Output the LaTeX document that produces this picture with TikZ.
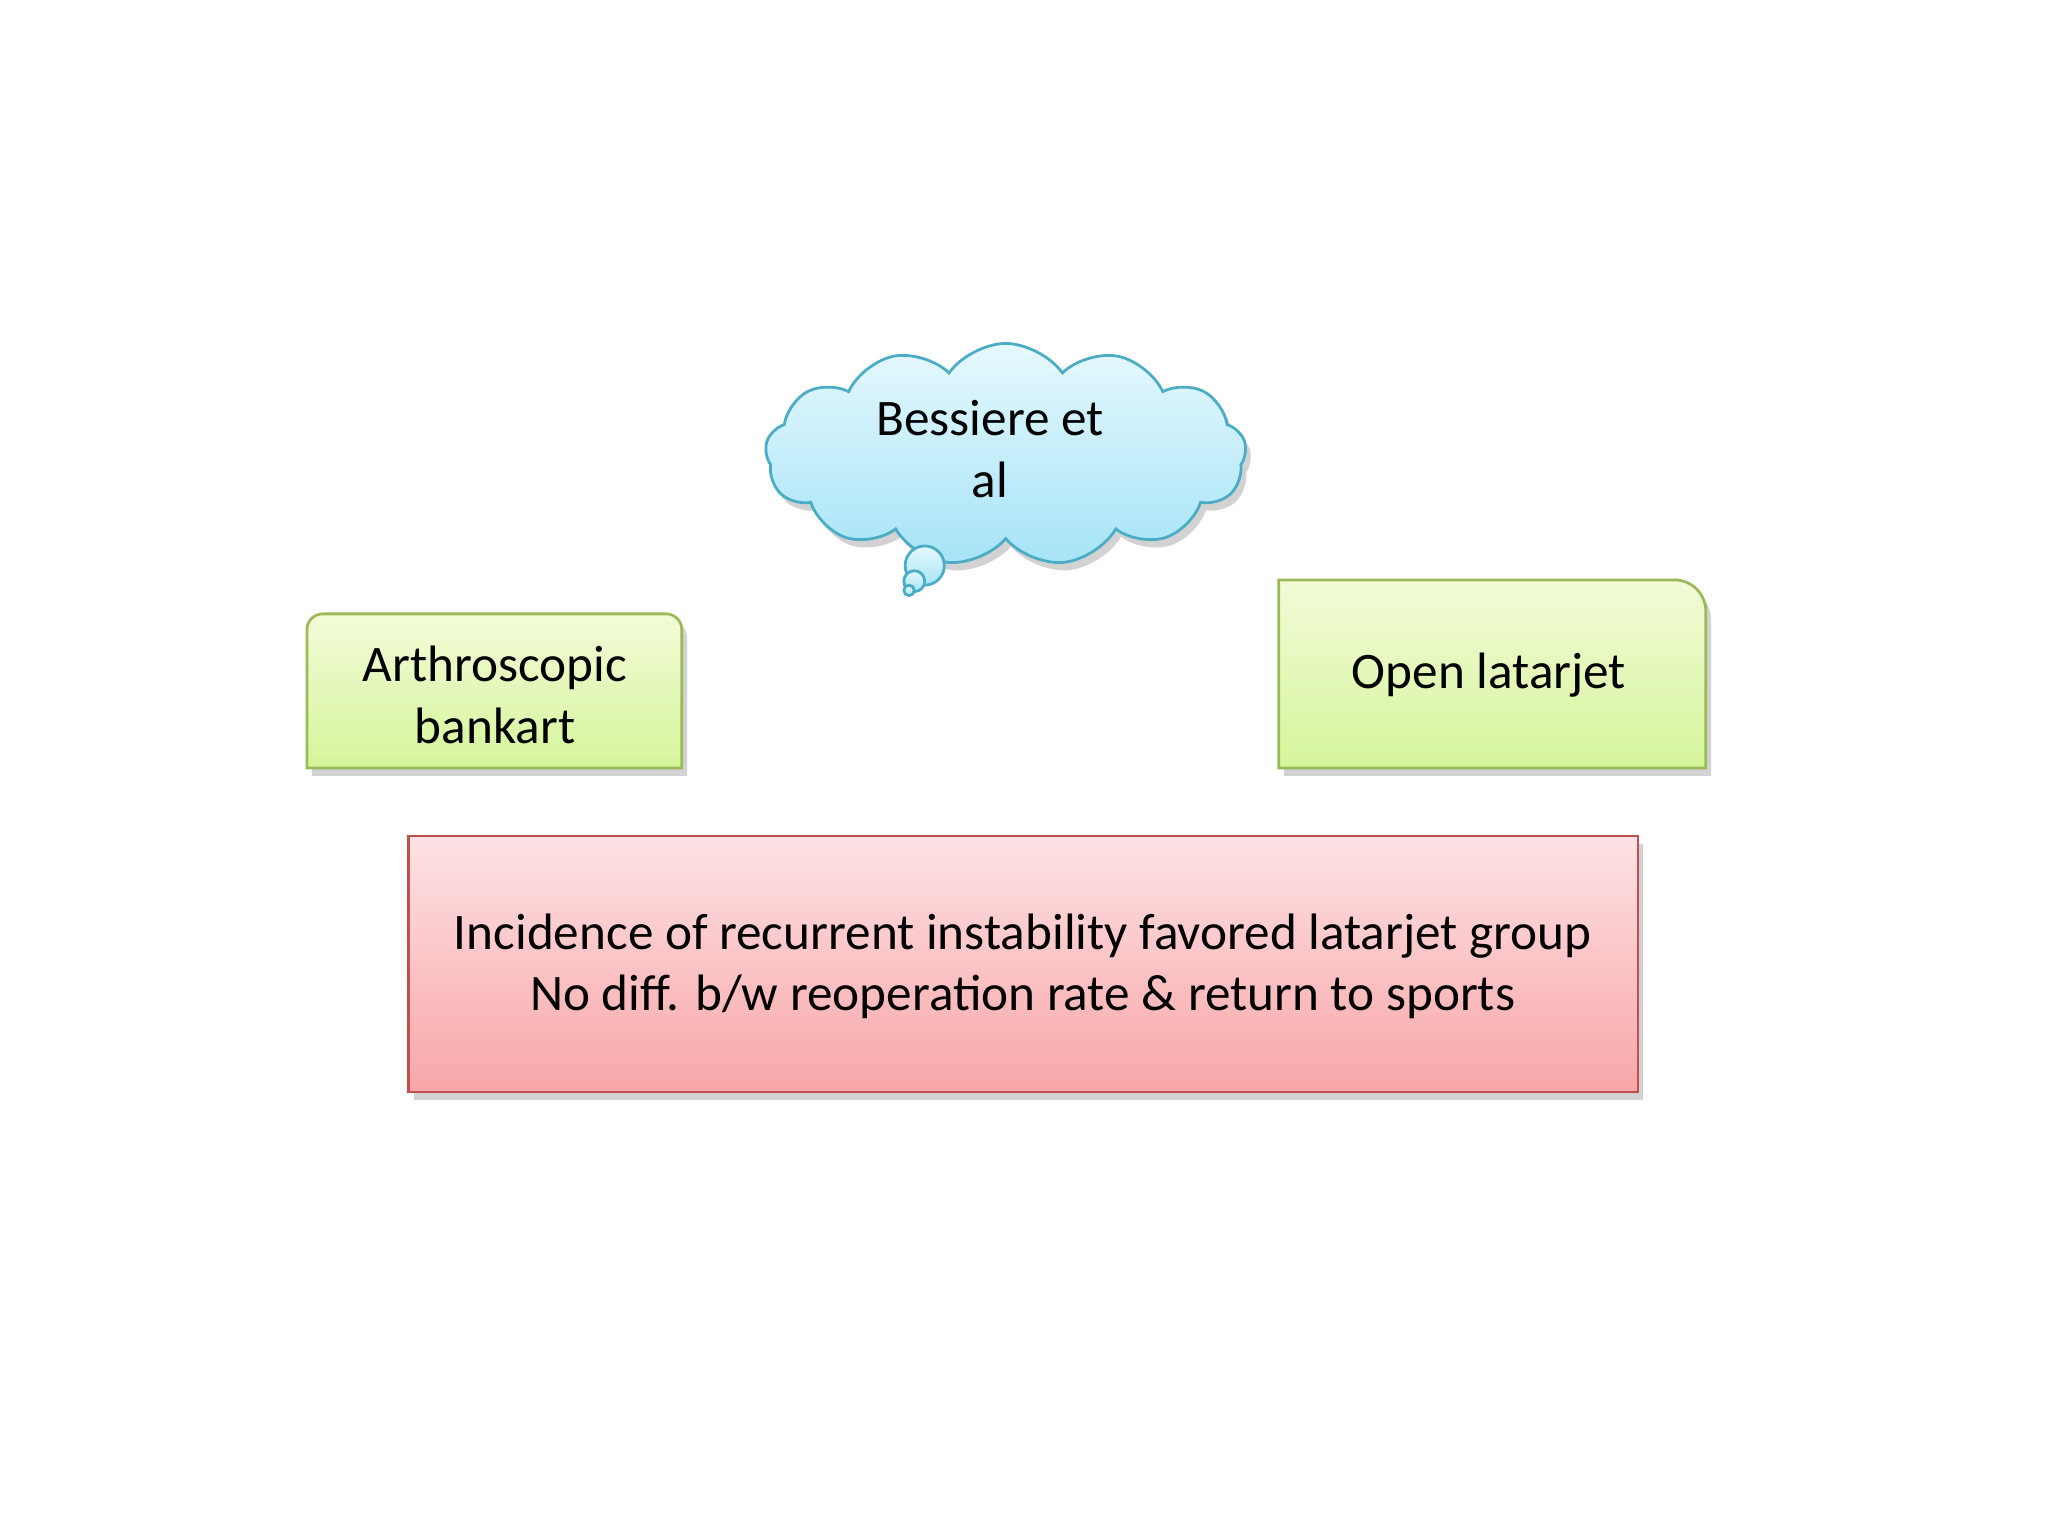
\documentclass[tikz,border=0pt]{standalone}
\usepackage{fontspec}
\setmainfont{Carlito}
\usetikzlibrary{shapes.symbols,shadows}
\definecolor{gbord}{HTML}{9BBB59}
\definecolor{gtop}{HTML}{F2FBD8}
\definecolor{gbot}{HTML}{D6F59A}
\definecolor{rbord}{HTML}{C0504D}
\definecolor{rtop}{HTML}{FDE2E5}
\definecolor{rbot}{HTML}{F8A6A7}
\definecolor{cbord}{HTML}{4BACC6}
\definecolor{ctop}{HTML}{E6F8FD}
\definecolor{cbot}{HTML}{A6E4F7}
\tikzset{
 txt/.style={font=\fontsize{11.15}{13.4}\selectfont, align=center, text=black},
 shad/.style={drop shadow={shadow xshift=0.4mm,shadow yshift=-0.6mm,opacity=0.35}},
 gbox/.style={draw=gbord, line width=0.6pt, top color=gtop, bottom color=gbot, shad},
 rbox/.style={draw=rbord, line width=0.6pt, top color=rtop, bottom color=rbot, shad},
 cl/.style={draw=cbord, line width=0.6pt, top color=ctop, bottom color=cbot}
}
\begin{document}
\begin{tikzpicture}[x=0.01cm,y=-0.01cm]
\useasboundingbox (0,0) rectangle (1568,1176);
\fill[white] (0,0) rectangle (1568,1176);
\node[cloud, cloud puffs=13, cloud puff arc=110, aspect=2.1, minimum width=3.68cm, minimum height=1.7cm, cl, shad] (c) at (770,348) {};
\node[txt] (ct) at (758,344) {Bessiere et\\al};
\draw[cl] (708,433) circle (15);
\draw[cl] (700,445) circle (8);
\draw[cl] (696,452) circle (4);
\path[gbox] (235,588) -- (235,482) arc (180:270:12) -- (510,470) arc (270:360:12) -- (522,588) -- cycle;
\node[txt] (a) at (379,532) {Arthroscopic\\bankart};
\path[gbox] (979,588) -- (979,444) -- (1282,444) arc (270:360:24) -- (1306,588) -- cycle;
\node[txt] (o) at (1140,517) {Open latarjet};
\path[rbox] (313,640) rectangle (1254,836);
\node[txt] (r) at (783,740) {Incidence of recurrent instability favored latarjet group\\No diff. b/w reoperation rate \& return to sports};
\end{tikzpicture}
\end{document}
